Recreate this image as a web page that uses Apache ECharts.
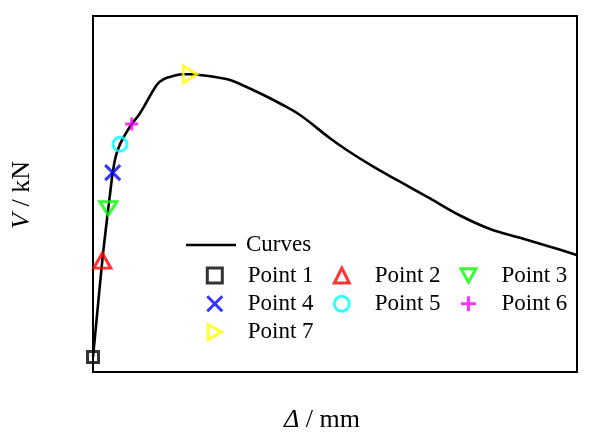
<!DOCTYPE html>
<html>
<head>
<meta charset="utf-8">
<script src="https://cdn.jsdelivr.net/npm/echarts@6/dist/echarts.min.js"></script>
<style>
html,body{margin:0;padding:0;background:#fff;}
#c{width:596px;height:443px;}
</style>
</head>
<body>
<div id="c"></div>
<script>
// Curve (Δ, V) in arbitrary axis units (no tick labels in the reference)
var curveX = [0, 1.92, 2.58, 3.16, 3.62, 4.07, 4.73, 5.58, 6.71, 8.00, 9.71, 13.16, 14.52, 16.59, 18.66, 20.04, 22.11, 25.56, 28.31, 30.37, 34.50, 38.64, 42.77, 48.97, 52.42, 57.91, 63.43, 69.63, 75.83, 82.02, 88.22, 94.42, 99.94];
var curveY = [4.2, 31.26, 39.33, 45.98, 51.12, 56.01, 60.7, 63.96, 66.85, 69.66, 72.67, 80.62, 82.22, 83.15, 83.62, 83.62, 83.43, 82.78, 82.02, 80.90, 78.29, 75.42, 72.19, 65.65, 62.36, 57.67, 53.46, 48.74, 43.96, 40.17, 37.70, 35.20, 32.87];
// Characteristic points
var pointNames = ['Point 1', 'Point 2', 'Point 3', 'Point 4', 'Point 5', 'Point 6', 'Point 7'];
var pointX = [0, 1.92, 3.16, 4.07, 5.58, 8.00, 20.04];
var pointY = [4.2, 31.26, 45.98, 56.01, 63.96, 69.66, 83.62];

var FONT = 'Liberation Serif';
var pointStyles = [
  {symbol: 'rect', size: 11, color: '#000000'},
  {symbol: 'triangle', size: [17, 15], color: '#ff0000'},
  {symbol: 'path://M0,0L10,0L5,9Z', size: [17, 15], color: '#00ff00'},
  {symbol: 'path://M0,0L10,10M10,0L0,10', size: 15, color: '#0000ff'},
  {symbol: 'circle', size: 14, color: '#00ffff'},
  {symbol: 'path://M5,0L5,10M0,5L10,5', size: 13, color: '#ff00ff'},
  {symbol: 'path://M0,0L9,5L0,10Z', size: [15, 17], color: '#ffff00'}
];

var series = [{
  name: 'Curves',
  type: 'line',
  data: curveX.map(function (x, i) { return [x, curveY[i]]; }),
  symbol: 'none',
  showSymbol: false,
  smooth: 0.4,
  lineStyle: {color: '#000', width: 2.6},
  itemStyle: {color: '#000'},
  z: 2
}];
pointNames.forEach(function (n, i) {
  var s = pointStyles[i];
  series.push({
    name: n,
    type: 'scatter',
    data: [[pointX[i], pointY[i]]],
    symbol: s.symbol,
    symbolSize: s.size,
    symbolKeepAspect: true,
    itemStyle: {color: 'transparent', borderColor: s.color, borderWidth: 3},
    z: 3
  });
});

var txt = {fontFamily: FONT, fontSize: 23, color: '#000', lineHeight: 23};
function colLegend(names, iconCenter) {
  return {
    data: names.map(function (n) {
      var s = pointStyles[pointNames.indexOf(n)];
      return {name: n, icon: s.symbol, itemStyle: {color: 'transparent', borderColor: s.color, borderWidth: 3}};
    }),
    orient: 'vertical', left: iconCenter - 7.5, top: 264, padding: 0,
    itemWidth: 15, itemHeight: 15, itemGap: 5.3,
    itemStyle: {borderWidth: 3},
    textStyle: Object.assign({padding: [0, 0, 0, 20.5]}, txt), selectedMode: false
  };
}

var chart = echarts.init(document.getElementById('c'));
chart.setOption({
  animation: false,
  backgroundColor: '#fff',
  grid: {left: 93, right: 19, top: 16, bottom: 71, show: true, borderColor: '#000', borderWidth: 2},
  xAxis: {type: 'value', min: 0, max: 100, axisLine: {show: false}, axisTick: {show: false}, axisLabel: {show: false}, splitLine: {show: false}},
  yAxis: {type: 'value', min: 0, max: 100, axisLine: {show: false}, axisTick: {show: false}, axisLabel: {show: false}, splitLine: {show: false}},
  legend: [
    {data: [{name: 'Curves', icon: 'rect', itemStyle: {color: '#000'}}], left: 186, top: 233.5, padding: 0, itemWidth: 50, itemHeight: 2.4,
     textStyle: Object.assign({padding: [0, 0, 0, 5]}, txt), selectedMode: false},
    colLegend(['Point 1', 'Point 4', 'Point 7'], 213.3),
    colLegend(['Point 2', 'Point 5'], 340.3),
    colLegend(['Point 3', 'Point 6'], 467)
  ],
  graphic: [
    {type: 'text', x: 322, y: 420, style: {text: '{i|Δ} / mm', fontFamily: FONT, fontSize: 26, fill: '#000', align: 'center', verticalAlign: 'middle',
      rich: {i: {fontStyle: 'italic', fontFamily: FONT, fontSize: 26}}}},
    {type: 'text', x: 22, y: 195, rotation: Math.PI / 2, style: {text: '{i|V} / kN', fontFamily: FONT, fontSize: 26, fill: '#000', align: 'center', verticalAlign: 'middle',
      rich: {i: {fontStyle: 'italic', fontFamily: FONT, fontSize: 26}}}}
  ],
  series: series
});
</script>
</body>
</html>
